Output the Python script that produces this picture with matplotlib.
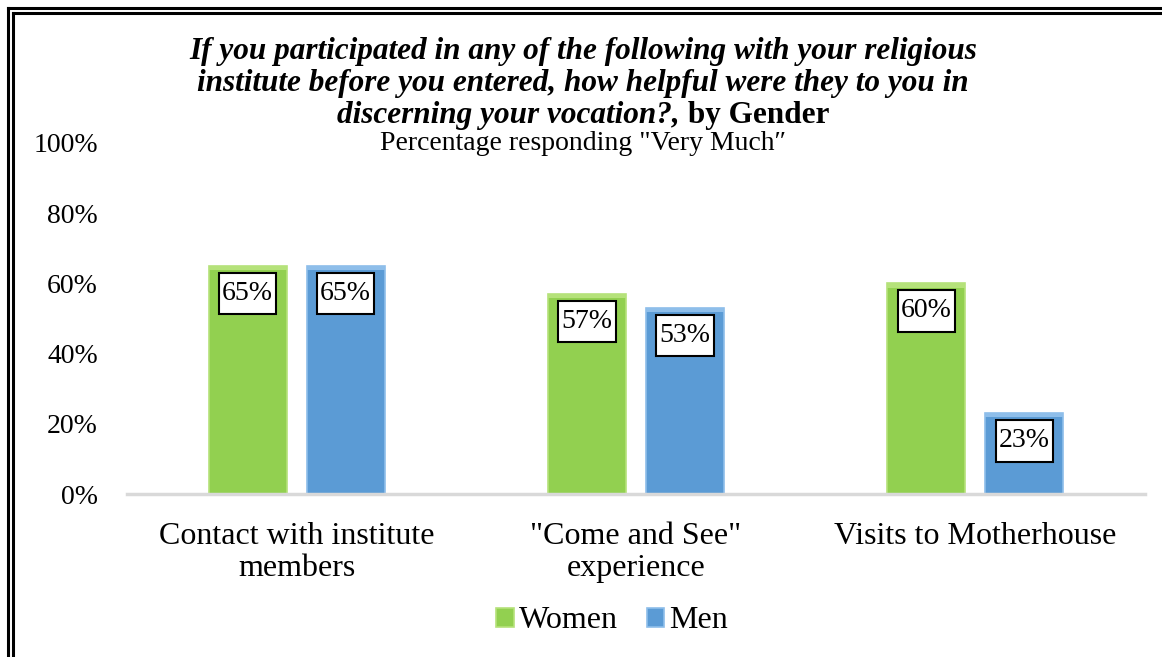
import matplotlib
matplotlib.use("Agg")
import matplotlib.pyplot as plt
import numpy as np
from matplotlib.lines import Line2D
from matplotlib.path import Path

categories = ["Contact with institute\nmembers", "\"Come and See\"\nexperience", "Visits to Motherhouse"]
series_names = ["Women", "Men"]
women = [65, 57, 60]
men = [65, 53, 23]
yticks = [0, 20, 40, 60, 80, 100]
ytick_labels = ["0%", "20%", "40%", "60%", "80%", "100%"]

colors = ["#92D050", "#5B9BD5"]
top_colors = ["#B5E27A", "#8EBEEA"]

plt.rcParams['font.family'] = ['Liberation Serif', 'DejaVu Serif']

W, H = 1162, 657
fig = plt.figure(figsize=(W / 100, H / 100), dpi=100)

# double border
for off, lw in [(8, 2.2), (13, 2.2)]:
    fig.add_artist(Line2D([off / W, off / W], [0, 1 - off / H], transform=fig.transFigure, color="black", lw=lw))
    fig.add_artist(Line2D([off / W, 1], [1 - off / H, 1 - off / H], transform=fig.transFigure, color="black", lw=lw))

ax_left, ax_right = 127, 1145
ax_bottom, ax_top = 494, 143
ax = fig.add_axes([ax_left / W, 1 - ax_bottom / H, (ax_right - ax_left) / W, (ax_bottom - ax_top) / H])


def label_box(x0, y0, width, height, mutation_size):
    px = 0.11 * mutation_size
    py = 0.30 * mutation_size
    x0, y0 = x0 - px, y0 - py
    x1, y1 = x0 + width + 2 * px, y0 + height + 2 * py
    return Path([(x0, y0), (x1, y0), (x1, y1), (x0, y1), (x0, y0)], closed=True)


x = np.arange(len(categories))
bw = 0.23
gap = 0.059
offsets = [-(bw + gap) / 2, (bw + gap) / 2]
for vals, off, c, tc, name in zip([women, men], offsets, colors, top_colors, series_names):
    ax.bar(x + off, vals, width=bw, color=c, edgecolor=tc, linewidth=1.2, label=name, zorder=2)
    for xi, v in zip(x + off, vals):
        ax.bar(xi, 1.2, bottom=v - 1.2, width=bw, color=tc, linewidth=0, zorder=3)
        ax.text(xi, v - 4.3, f"{v}%", ha="center", va="top", fontsize=20, zorder=5,
                bbox=dict(boxstyle=label_box, facecolor="white", edgecolor="black", linewidth=1.5))

ax.set_xlim(-0.5, 2.5)
ax.set_ylim(0, 100)
ax.set_yticks(yticks)
ax.set_yticklabels(ytick_labels, fontsize=20)
ax.set_xticks(x)
ax.set_xticklabels(categories, fontsize=23, linespacing=1.15)
ax.tick_params(axis="both", length=0)
ax.tick_params(axis="y", pad=21)
ax.tick_params(axis="x", pad=20)
for s in ["top", "right", "left"]:
    ax.spines[s].set_visible(False)
ax.spines["bottom"].set_color("#D9D9D9")
ax.spines["bottom"].set_linewidth(2.5)

# title
fig.text(583 / W, 1 - 52 / H, "If you participated in any of the following with your religious",
         ha="center", va="center", fontsize=22.5, fontweight="bold", fontstyle="italic")
fig.text(583 / W, 1 - 84 / H, "institute before you entered, how helpful were they to you in",
         ha="center", va="center", fontsize=22.5, fontweight="bold", fontstyle="italic")
t1 = fig.text(0, 1 - 115 / H, "discerning your vocation?,", ha="left", va="center",
              fontsize=22.5, fontweight="bold", fontstyle="italic")
t2 = fig.text(0, 1 - 115 / H, " by Gender", ha="left", va="center", fontsize=22.5, fontweight="bold")
fig.canvas.draw()
r = fig.canvas.get_renderer()
w1 = t1.get_window_extent(r).width
w2 = t2.get_window_extent(r).width
start = 583 - (w1 + w2) / 2
t1.set_x(start / W)
t2.set_x((start + w1) / W)
fig.text(583 / W, 1 - 144 / H, "Percentage responding \"Very Much\u2033", ha="center", va="center", fontsize=20)

fig.legend(loc="center", bbox_to_anchor=(612 / W, 1 - 621 / H), ncol=2, frameon=False,
           fontsize=23, handlelength=0.55, handleheight=0.55, handletextpad=0.15, columnspacing=0.9)

fig.savefig("out.png", dpi=100, facecolor="white")
